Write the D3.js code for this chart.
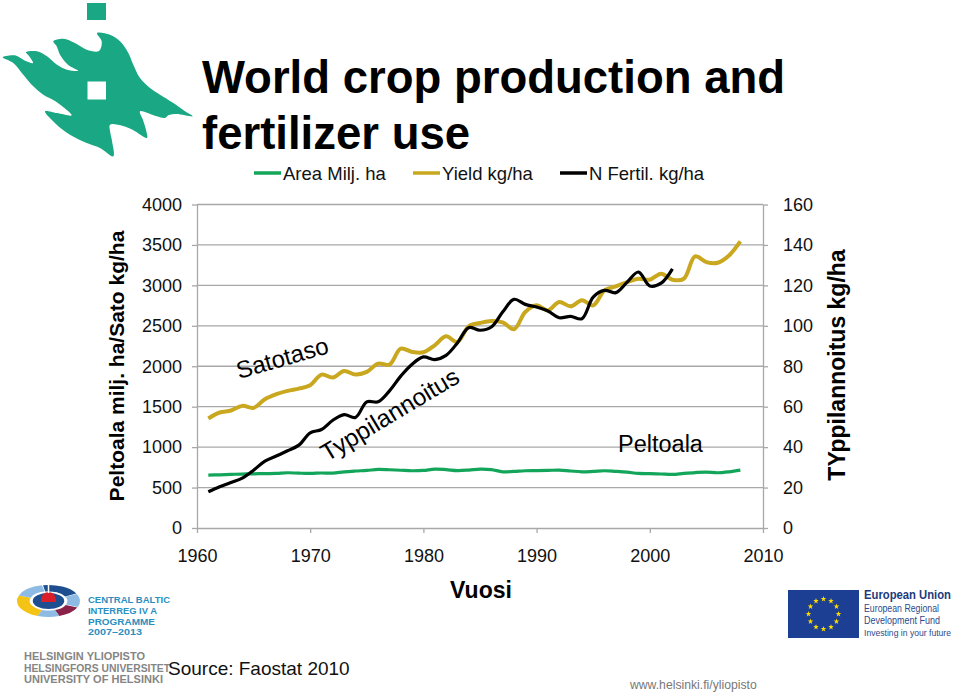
<!DOCTYPE html>
<html><head><meta charset="utf-8">
<script src="https://cdn.jsdelivr.net/npm/d3@7"></script>
<style>
html,body{margin:0;padding:0;background:#fff;}
svg{display:block;font-family:"Liberation Sans",Arial,sans-serif;}
</style></head>
<body><svg id="c" width="960" height="693"></svg>
<script>
// ---------- data ----------
const years = [1961,1962,1963,1964,1965,1966,1967,1968,1969,1970,1971,1972,1973,1974,1975,1976,1977,1978,1979,1980,
  1981,1982,1983,1984,1985,1986,1987,1988,1989,1990,1991,1992,1993,1994,1995,1996,1997,1998,1999,2000,
  2001,2002,2003,2004,2005,2006,2007,2008];
const areaMha = [654,658,663,667,670,673,675,683,678,675,680,678,695,705,712,724,720,714,708,712,
  728,722,710,716,728,722,695,700,708,710,712,716,705,695,700,708,700,690,675,672,
  668,663,675,685,691,683,695,716];
const yieldKg = [1354,1428,1453,1510,1486,1593,1654,1696,1724,1765,1897,1860,1942,1897,1930,2033,2021,2218,2177,2173,
  2259,2370,2300,2494,2535,2560,2543,2457,2671,2753,2691,2794,2741,2815,2753,2938,2988,3041,3082,3070,
  3144,3070,3082,3358,3288,3280,3370,3543];
const fertYears = years.slice(0,42);
const nFertKg = [17.9,20.4,22.5,24.7,28.6,33.1,35.6,38.2,41.0,47.1,48.7,53.3,56.1,54.7,62.4,62.4,67.8,75.1,81.0,84.6,
  83.3,85.4,91.5,99.1,97.8,99.4,106.8,113.1,110.6,109.3,107.3,104.0,104.7,103.5,114.2,117.5,116.4,121.6,126.6,119.7,
  121.1,128.2];
const xTicks = [1960,1970,1980,1990,2000,2010];
const leftTicks = [0,500,1000,1500,2000,2500,3000,3500,4000];
const rightTicks = [0,20,40,60,80,100,120,140,160];
const seriesNames = ["Area Milj. ha","Yield kg/ha","N Fertil. kg/ha"];
const seriesColors = ["#13a55a","#c9a81f","#000000"];

// ---------- setup ----------
const svg = d3.select("#c");
const x = d3.scaleLinear().domain([1960,2010]).range([197,763]);
const yL = d3.scaleLinear().domain([0,4000]).range([528,204.5]);
const yR = d3.scaleLinear().domain([0,160]).range([528,204.5]);
const grid = "#a8a8a8";

// ---------- HU logo ----------
const flame = [[2.7,57.3],[15,55.3],[25,60.7],[33,63],[29,56],[26,52.3],[37,51.3],[47,56.3],[57,64.7],[67,69.7],[78,70.7],
  [68,64.7],[60,54.7],[56.7,46.3],[53.3,41.3],[63.3,38.7],[75,43],[86.7,49.7],[99,51],[101.7,41.3],[97,33],
  [110,34.7],[120,41.3],[128.3,53],[133.3,64.7],[140,78],[150,88],[160,94.7],[173.3,103],[185,111.3],[192.7,116.3],
  [176.7,114],[168.3,115.3],[165,118],[156.7,116.3],[140,111.3],[143,120],[146,130],[147,138],[133,130],[123,126],
  [110,124.7],[110,131],[112,141],[113.3,156.3],[100,148],[86.7,143],[70,134.7],[56.7,124.7],[45,111.3],[57,113],
  [71.7,115.3],[55,101],[43.3,94.7],[33.3,86.3],[23.3,74.7],[13.3,63]];
const logo = svg.append("g");
logo.append("path").attr("fill","#19a784").attr("d", d3.line().curve(d3.curveCatmullRomClosed.alpha(0.5))(flame));
logo.append("rect").attr("x",87).attr("y",3).attr("width",19).attr("height",17).attr("fill","#19a784");
logo.append("rect").attr("x",87.5).attr("y",81.5).attr("width",18.5).attr("height",18).attr("fill","#fff");

// ---------- title ----------
const title = svg.append("text").attr("x",202).attr("font-size",45.5).attr("font-weight","bold").attr("fill","#000");
title.append("tspan").attr("x",202).attr("y",93).text("World crop production and");
title.append("tspan").attr("x",202).attr("y",149).text("fertilizer use");

// ---------- legend ----------
const legX = [254,413,560];
seriesNames.forEach((n,i)=>{
  svg.append("line").attr("x1",legX[i]).attr("x2",legX[i]+27).attr("y1",173).attr("y2",173)
    .attr("stroke",seriesColors[i]).attr("stroke-width",3.5);
  svg.append("text").attr("x",legX[i]+29).attr("y",179.5).attr("font-size",18.5).attr("fill","#111").text(n);
});

// ---------- grid ----------
svg.append("g").selectAll("line").data(leftTicks.filter(d=>d>0)).join("line")
  .attr("x1",197).attr("x2",763).attr("y1",d=>yL(d)).attr("y2",d=>yL(d))
  .attr("stroke",grid).attr("stroke-width",1.3);

// ---------- axes ----------
function styleAxis(g){
  g.selectAll("path,line").attr("stroke",grid).attr("stroke-width",1.3);
  g.selectAll("text").attr("font-size",18).attr("fill","#111").attr("font-family","'Liberation Sans',Arial,sans-serif");
}
svg.append("g").attr("transform","translate(197,0)")
  .call(d3.axisLeft(yL).tickValues(leftTicks).tickSize(5).tickSizeOuter(0).tickPadding(10).tickFormat(d3.format("d")))
  .call(styleAxis);
svg.append("g").attr("transform","translate(763,0)")
  .call(d3.axisRight(yR).tickValues(rightTicks).tickSize(5).tickSizeOuter(0).tickPadding(15).tickFormat(d3.format("d")))
  .call(styleAxis);
svg.append("g").attr("transform","translate(0,528)")
  .call(d3.axisBottom(x).tickValues(xTicks).tickSize(5).tickSizeOuter(0).tickPadding(16).tickFormat(d3.format("d")))
  .call(styleAxis);

// ---------- axis titles ----------
svg.append("text").attr("transform","translate(124,366) rotate(-90)").attr("text-anchor","middle")
  .attr("font-size",21).attr("font-weight","bold").text("Peltoala milj. ha/Sato kg/ha");
svg.append("text").attr("transform","translate(845,365) rotate(-90)").attr("text-anchor","middle")
  .attr("font-size",23).attr("font-weight","bold").text("TYppilannoitus kg/ha");
svg.append("text").attr("x",481).attr("y",598).attr("text-anchor","middle")
  .attr("font-size",23).attr("font-weight","bold").text("Vuosi");

// ---------- lines ----------
const curve = d3.curveCatmullRom.alpha(0.5);
const lineL = d3.line().curve(curve).x(d=>x(d[0])).y(d=>yL(d[1]));
const lineR = d3.line().curve(curve).x(d=>x(d[0])).y(d=>yR(d[1]));
svg.append("path").attr("d",lineL(years.map((y,i)=>[y,areaMha[i]]))).attr("fill","none")
  .attr("stroke",seriesColors[0]).attr("stroke-width",3.2).attr("stroke-linejoin","round");
svg.append("path").attr("d",lineL(years.map((y,i)=>[y,yieldKg[i]]))).attr("fill","none")
  .attr("stroke",seriesColors[1]).attr("stroke-width",4).attr("stroke-linejoin","round");
svg.append("path").attr("d",lineR(fertYears.map((y,i)=>[y,nFertKg[i]]))).attr("fill","none")
  .attr("stroke",seriesColors[2]).attr("stroke-width",3.2).attr("stroke-linejoin","round");

// ---------- annotations ----------
svg.append("text").attr("transform","translate(239,379) rotate(-16)").attr("font-size",24).text("Satotaso");
svg.append("text").attr("transform","translate(327,462) rotate(-31)").attr("font-size",24.5).text("Typpilannoitus");
svg.append("text").attr("x",618).attr("y",452).attr("font-size",23.5).text("Peltoala");

// ---------- Central Baltic logo ----------
const cb = svg.append("g").attr("transform","translate(48.5,601) scale(31.5,16)");
const segs = [[200,290,"#f3c316"],[290,348,"#8dbbe3"],[350,62,"#1d4e8f"],[64,112,"#8dbbe3"],[114,160,"#8a2148"],[160,200,"#8dbbe3"]];
const arc = d3.arc().innerRadius(0.6).outerRadius(1);
segs.forEach(s=>{
  let a0=s[0]*Math.PI/180, a1=s[1]*Math.PI/180; if(a1<a0) a1+=2*Math.PI;
  cb.append("path").attr("d",arc({startAngle:a0,endAngle:a1})).attr("fill",s[2]);
});
cb.append("ellipse").attr("rx",0.5).attr("ry",0.5).attr("fill","#1d4e8f");
svg.append("path").attr("d","M41,602 Q41,592 48.5,592 Q56,592 56,602 Z").attr("fill","#d91e2a");
svg.append("line").attr("x1",48.5).attr("x2",48.5).attr("y1",584).attr("y2",593).attr("stroke","#fff").attr("stroke-width",1.5);
const cbT = ["CENTRAL BALTIC","INTERREG IV A","PROGRAMME","2007–2013"];
const cbW = [82,69,67,54];
cbT.forEach((t,i)=>svg.append("text").attr("x",88).attr("y",603+i*10.8).attr("font-size",9.4)
  .attr("font-weight","bold").attr("fill","#2b8fc0").attr("textLength",cbW[i]).attr("lengthAdjust","spacingAndGlyphs").text(t));

// ---------- HU names ----------
const huT = ["HELSINGIN YLIOPISTO","HELSINGFORS UNIVERSITET","UNIVERSITY OF HELSINKI"];
const huW = [121,146,139];
huT.forEach((t,i)=>
  svg.append("text").attr("x",24).attr("y",660+i*11.7).attr("font-size",10).attr("font-weight","bold")
   .attr("fill","#858585").attr("textLength",huW[i]).attr("lengthAdjust","spacingAndGlyphs").text(t));
svg.append("text").attr("x",168).attr("y",675).attr("font-size",19).attr("fill","#111").text("Source: Faostat 2010");
svg.append("text").attr("x",630).attr("y",689).attr("font-size",12.2).attr("fill","#777").text("www.helsinki.fi/yliopisto");

// ---------- EU ----------
svg.append("rect").attr("x",788).attr("y",590).attr("width",71).attr("height",48).attr("fill","#1c3f94");
const stars = d3.range(12).map(i=>i*30);
svg.append("g").selectAll("path").data(stars).join("path")
  .attr("d",d3.symbol(d3.symbolStar).size(10))
  .attr("transform",a=>`translate(${823.5+15*Math.sin(a*Math.PI/180)},${614-15*Math.cos(a*Math.PI/180)})`)
  .attr("fill","#ffdd00");
svg.append("text").attr("x",864).attr("y",599).attr("font-size",12.5).attr("font-weight","bold").attr("fill","#1c3a7c")
  .attr("textLength",87).attr("lengthAdjust","spacingAndGlyphs").text("European Union");
const euT = ["European Regional","Development Fund","Investing in your future"];
const euW = [75,76,87];
const euF = [10.5,10.5,9.3];
euT.forEach((t,i)=>
  svg.append("text").attr("x",864).attr("y",612+i*12).attr("font-size",euF[i]).attr("fill","#2b4a8a")
   .attr("textLength",euW[i]).attr("lengthAdjust","spacingAndGlyphs").text(t));
</script></body></html>
